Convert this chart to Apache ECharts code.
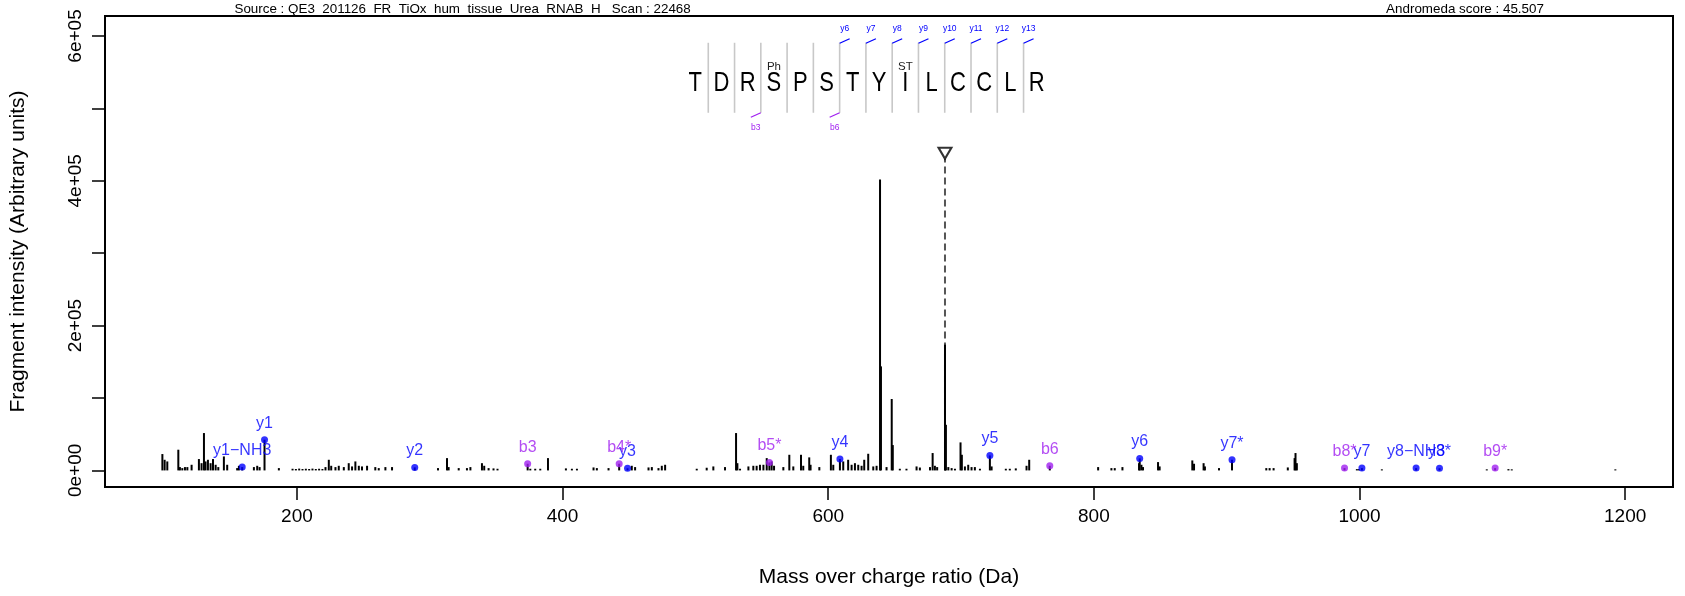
<!DOCTYPE html>
<html><head><meta charset="utf-8">
<script src="https://cdn.jsdelivr.net/npm/echarts@6/dist/echarts.min.js"></script>
<style>html,body{margin:0;padding:0;background:#fff}#c{width:1685px;height:596px}</style>
</head><body><div id="c"></div>
<script>
const FONT = "'Liberation Sans', Arial, Helvetica, sans-serif";

// ---- spectrum peaks (m/z, intensity) ----
const peakMz = [98.7,100.4,102.4,110.7,111.9,113.7,115.7,117.5,120.7,126.2,128.2,130.0,131.2,133.0,135.0,136.8,138.8,140.8,145.0,147.5,155.0,156.3,158.8,167.6,170.1,171.9,175.6,186.4,196.7,199.2,201.7,204.2,206.7,209.2,211.7,214.2,216.7,219.2,221.5,224.0,225.8,229.0,231.5,235.3,239.0,241.5,244.0,246.6,249.0,252.8,259.0,261.6,266.6,271.6,288.7,306.2,313.0,314.2,321.8,328.0,330.6,339.3,341.0,344.3,348.0,351.0,373.7,375.7,379.4,383.2,389.0,402.5,407.0,410.8,423.3,425.8,434.6,442.6,448.9,452.1,454.6,464.7,467.2,472.2,474.7,477.2,501.0,508.5,513.5,522.3,530.6,531.6,533.6,539.9,543.6,546.1,548.6,551.2,553.7,555.7,557.4,559.2,566.2,570.7,573.7,579.5,581.2,585.7,586.7,593.3,602.0,603.8,608.8,611.3,615.0,617.6,620.1,622.6,625.1,627.1,630.1,633.9,636.4,639.0,639.7,643.9,647.8,648.6,653.9,658.9,666.5,669.0,676.6,678.6,680.3,682.0,687.9,688.6,690.4,692.9,695.4,699.6,700.6,702.9,705.4,707.9,710.4,714.2,721.7,723.0,733.7,736.7,741.2,749.3,751.3,766.8,803.2,813.2,815.7,821.5,834.0,834.5,835.8,837.0,848.3,849.5,874.1,875.4,882.6,883.6,894.2,904.0,929.8,932.3,935.3,946.0,951.1,951.8,952.8,988.7,998.0,999.5,1001.8,1016.8,1042.6,1060.2,1095.8,1102.1,1112.1,1114.6,1192.6];
const peakInt = [22600,14700,12400,28600,4600,3200,4600,4600,7800,15700,10000,51600,12400,14700,10000,15700,7800,4600,19300,7800,3200,6400,4600,4600,6400,4600,42400,3200,2300,2000,2500,2000,2300,2000,2500,2000,2300,2000,4600,14700,6400,4600,6400,4600,10000,5500,12400,6400,5500,6400,4600,3200,4600,4600,4200,3200,17000,4600,3200,3200,4600,10000,6400,3200,2800,2300,9200,2300,2300,2300,17000,2800,2300,2300,4100,3200,3200,9200,3000,6400,4600,4100,4600,3200,6400,7800,2300,3700,5500,4600,51600,10000,2300,5500,6400,6400,7800,7800,17000,11000,12400,6400,4600,21600,5500,21600,6400,18000,7800,4600,21600,7800,15700,12400,14700,7800,10000,7800,6400,14700,23000,5500,6400,401700,143700,4600,98600,35000,2300,2300,5500,4000,4600,24000,6400,4600,173700,63000,4600,3200,2300,38700,21600,5500,7800,4600,4600,2300,20700,5500,2300,2300,2800,6400,14700,6400,4600,3200,3200,4600,10000,16600,7800,4600,11500,5500,13800,9200,10000,5500,3200,14700,3200,3200,3200,4100,17000,24000,10000,3200,1800,1800,3200,1500,3200,3000,1500,3200,1800,1500,1500];

// ---- annotated fragment ions ----
const yIonNames = ['y1\u2212NH3','y1','y2','y3','y4','y5','y6','y7*','y7','y8\u2212NH3','y8*'];
const yIonMz    = [158.8,175.6,288.7,448.9,608.8,721.7,834.5,904.0,1001.8,1042.6,1060.2];
const yIonInt   = [4600,42400,4200,3000,15700,20700,16600,14700,3200,3200,3000];
const bIonNames = ['b3','b4*','b5*','b6','b8*','b9*'];
const bIonMz    = [373.7,442.6,555.7,766.8,988.7,1102.1];
const bIonInt   = [9200,9200,11000,6400,3200,3200];

// ---- precursor ----
const precursorMz = [687.9];
const precursorMarkInt = [438000];

// ---- axes ----
const xTicks = [200,400,600,800,1000,1200];
const yTicks = [0,100000,200000,300000,400000,500000,600000];
const yLabelValues = [0,200000,400000,600000];
const yLabelTexts = ['0e+00','2e+05','4e+05','6e+05'];

// ---- header texts ----
const sourceText = 'Source : QE3_201126_FR_TiOx_hum_tissue_Urea_RNAB_H   Scan : 22468';
const scoreText = 'Andromeda score : 45.507';

// ---- peptide sequence annotation ----
const residues = ['T','D','R','S','P','S','T','Y','I','L','C','C','L','R'];
const modIndex = [3,8];
const modText = ['Ph','ST'];
const yFragAfter = [5,6,7,8,9,10,11,12];
const yFragText = ['y6','y7','y8','y9','y10','y11','y12','y13'];
const bFragAfter = [2,5];
const bFragText = ['b3','b6'];
const seqStartMz = 499.8, seqStepMz = 19.78, seqCenterInt = 534000;

const BLUE = '#0000FF', PURPLE = '#A020F0';
const chart = echarts.init(document.getElementById('c'), null, {renderer:'canvas'});

function seqRender(params, api){
  const cy = api.coord([0, seqCenterInt])[1];
  const xOf = v => api.coord([v, 0])[0];
  const ch = [];
  for (let i = 0; i < residues.length - 1; i++){
    const sx = xOf(seqStartMz + seqStepMz * (i + 0.5));
    ch.push({type:'line', shape:{x1:sx,y1:cy-41,x2:sx,y2:cy+29}, style:{stroke:'#C8C8C8', lineWidth:1.6}});
  }
  residues.forEach((r,i)=>{
    ch.push({type:'text', x:xOf(seqStartMz+seqStepMz*i), y:cy, scaleY:1.22,
      style:{text:r, x:0, y:0, align:'center', verticalAlign:'middle', font:'22px '+FONT, fill:'#000'}});
  });
  modIndex.forEach((mi,k)=>{
    ch.push({type:'text', style:{text:modText[k], x:xOf(seqStartMz+seqStepMz*mi), y:cy-17, align:'center', verticalAlign:'middle', font:'11.5px '+FONT, fill:'#222'}});
  });
  yFragAfter.forEach((ai,k)=>{
    const sx = xOf(seqStartMz + seqStepMz * (ai + 0.5));
    ch.push({type:'line', shape:{x1:sx,y1:cy-40.5,x2:sx+10,y2:cy-45}, style:{stroke:BLUE, lineWidth:1.3}});
    ch.push({type:'text', style:{text:yFragText[k], x:sx+5, y:cy-55, align:'center', verticalAlign:'middle', font:'8.5px '+FONT, fill:BLUE}});
  });
  bFragAfter.forEach((ai,k)=>{
    const sx = xOf(seqStartMz + seqStepMz * (ai + 0.5));
    ch.push({type:'line', shape:{x1:sx,y1:cy+29,x2:sx-10,y2:cy+33.5}, style:{stroke:PURPLE, lineWidth:1.3}});
    ch.push({type:'text', style:{text:bFragText[k], x:sx-5, y:cy+43.5, align:'center', verticalAlign:'middle', font:'8.5px '+FONT, fill:PURPLE}});
  });
  return {type:'group', children:ch};
}

const option = {
  animation:false,
  backgroundColor:'#fff',
  textStyle:{fontFamily:FONT},
  grid:{left:105, right:12, top:16, bottom:109, show:true, borderColor:'#000', borderWidth:2, backgroundColor:'transparent'},
  xAxis:{type:'value', min:55.5, max:1236,
    name:'Mass over charge ratio (Da)', nameLocation:'middle', nameGap:80,
    nameTextStyle:{fontSize:21, color:'#000', fontFamily:FONT},
    axisLine:{show:true, onZero:false, lineStyle:{color:'#000', width:2}},
    axisTick:{show:true, length:13, customValues:xTicks, lineStyle:{color:'#000', width:1.5}},
    axisLabel:{customValues:xTicks, fontSize:19, color:'#000', margin:20, fontFamily:FONT, formatter:v=>String(v)},
    splitLine:{show:false}},
  yAxis:{type:'value', min:-22900, max:627600,
    name:'Fragment intensity (Arbitrary units)', nameLocation:'middle', nameRotate:90, nameGap:76,
    nameTextStyle:{fontSize:21, color:'#000', fontFamily:FONT},
    axisLine:{show:true, onZero:false, lineStyle:{color:'#000', width:2}},
    axisTick:{show:true, length:13, customValues:yTicks, lineStyle:{color:'#000', width:1.5}},
    axisLabel:{customValues:yLabelValues, rotate:90, fontSize:19, color:'#000', margin:20, fontFamily:FONT,
      formatter:v=>{const i=yLabelValues.indexOf(v); return i>=0?yLabelTexts[i]:'';}},
    splitLine:{show:false}},
  graphic:[
    {type:'text', style:{text:sourceText, x:462.6, y:9, align:'center', verticalAlign:'middle', font:'13.4px '+FONT, fill:'#000'}},
    {type:'text', style:{text:scoreText, x:1465, y:9, align:'center', verticalAlign:'middle', font:'13.4px '+FONT, fill:'#000'}}
  ],
  series:[
    {type:'custom', name:'precursorLine', z:1,
      data:precursorMz.map((m,i)=>[m, precursorMarkInt[i]]), encode:{x:0,y:1},
      renderItem:(params, api)=>{
        const p0 = api.coord([api.value(0), 0]);
        const p1 = api.coord([api.value(0), api.value(1)]);
        return {type:'line', shape:{x1:p0[0],y1:p0[1],x2:p1[0],y2:p1[1]+5.5}, style:{stroke:'#555', lineWidth:2, lineDash:[7,4]}};
      }},
    {type:'custom', name:'peaks', z:2,
      data:peakMz.map((m,i)=>[m, peakInt[i]]), encode:{x:0,y:1},
      renderItem:(params, api)=>{
        const p0 = api.coord([api.value(0), 0]);
        const p1 = api.coord([api.value(0), api.value(1)]);
        return {type:'line', shape:{x1:p0[0],y1:p0[1],x2:p1[0],y2:p1[1]}, style:{stroke:'#000', lineWidth:2}};
      }},
    {type:'scatter', name:'precursor', z:3, symbol:'triangle', symbolRotate:180, symbolSize:[13,11],
      data:precursorMz.map((m,i)=>[m, precursorMarkInt[i]]),
      itemStyle:{color:'rgba(0,0,0,0)', borderColor:'#000', borderWidth:2}},
    {type:'scatter', name:'y ions', z:4, symbolSize:7,
      data:yIonMz.map((m,i)=>[m, yIonInt[i], yIonNames[i]]),
      itemStyle:{color:BLUE},
      label:{show:true, position:'top', distance:5, formatter:p=>p.data[2], color:BLUE, fontSize:16, fontFamily:FONT}},
    {type:'scatter', name:'b ions', z:4, symbolSize:7,
      data:bIonMz.map((m,i)=>[m, bIonInt[i], bIonNames[i]]),
      itemStyle:{color:PURPLE},
      label:{show:true, position:'top', distance:5, formatter:p=>p.data[2], color:PURPLE, fontSize:16, fontFamily:FONT}},
    {type:'custom', name:'sequence', z:5, data:[[0,0]], encode:{x:0,y:1}, renderItem:seqRender}
  ]
};
chart.setOption(option);
</script></body></html>
